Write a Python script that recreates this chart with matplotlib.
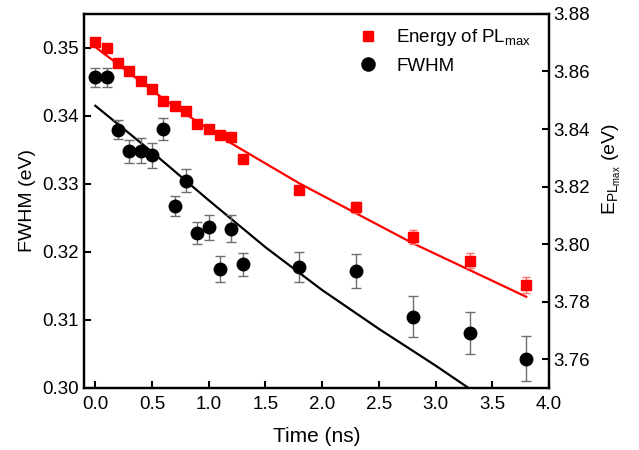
import matplotlib
matplotlib.use("Agg")
import matplotlib.pyplot as plt

plt.rcParams['font.family'] = ['Liberation Sans', 'DejaVu Sans']
plt.rcParams['mathtext.default'] = 'regular'

# data
time = [0.0, 0.1, 0.2, 0.3, 0.4, 0.5, 0.6, 0.7, 0.8, 0.9, 1.0, 1.1, 1.2, 1.3,
        1.8, 2.3, 2.8, 3.3, 3.8]
energy = [3.8704, 3.8681, 3.8631, 3.8602, 3.8568, 3.8540, 3.8498, 3.8480,
          3.8463, 3.8417, 3.8401, 3.8379, 3.8371, 3.8295, 3.8188, 3.8128,
          3.8024, 3.7943, 3.7858]
energy_err = [0.001, 0.001, 0.001, 0.001, 0.001, 0.001, 0.001, 0.001, 0.001,
              0.001, 0.001, 0.001, 0.001, 0.0012, 0.0015, 0.002, 0.0025,
              0.0025, 0.0028]
fwhm = [0.3457, 0.3457, 0.3380, 0.3348, 0.3349, 0.3342, 0.3381, 0.3268,
        0.3305, 0.3228, 0.3236, 0.3175, 0.3234, 0.3182, 0.3178, 0.3172,
        0.3105, 0.3081, 0.3043]
fwhm_err = [0.0014, 0.0014, 0.0014, 0.0017, 0.0018, 0.0018, 0.0016, 0.0015,
            0.0017, 0.0016, 0.0019, 0.0019, 0.002, 0.0017, 0.0022, 0.0025,
            0.003, 0.0031, 0.0033]

# fit curves
fit_e_t = [0.0, 0.3, 0.6, 0.9, 1.2, 1.8, 2.3, 2.8, 3.3, 3.8]
fit_e_v = [3.8685, 3.8595, 3.8505, 3.8425, 3.8350, 3.8211, 3.8107, 3.8003,
           3.7910, 3.7817]
fit_w_t = [0.0, 0.5, 1.0, 1.5, 2.0, 2.5, 3.0, 3.3, 3.5]
fit_w_v = [0.3415, 0.3347, 0.3276, 0.3207, 0.3144, 0.3087, 0.3033, 0.2999,
           0.2977]

fig = plt.figure(figsize=(6.39, 4.5), dpi=100)
ax = fig.add_axes([0.1315, 0.1378, 0.7275, 0.8312])
ax2 = ax.twinx()

ax.plot(fit_w_t, fit_w_v, color='black', lw=1.6, zorder=2)
ax.errorbar(time, fwhm, yerr=fwhm_err, fmt='none', ecolor='#6e6e6e',
            elinewidth=1, capsize=3.5, capthick=1, zorder=3)
h_fwhm, = ax.plot(time, fwhm, 'o', color='black', ms=9, ls='none',
                  zorder=4, label='FWHM')

ax2.plot(fit_e_t, fit_e_v, color='red', lw=1.6, zorder=2)
ax2.errorbar(time, energy, yerr=energy_err, fmt='none', ecolor='#ff7070',
             elinewidth=1, capsize=3, capthick=1, zorder=3)
h_e, = ax2.plot(time, energy, 's', color='red', ms=7.5, ls='none',
                zorder=4, label='Energy of PL$_{max}$')

ax.set_xlim(-0.1, 4.0)
ax.set_ylim(0.30, 0.355)
ax2.set_ylim(3.75, 3.88)

ax.set_xticks([0.0, 0.5, 1.0, 1.5, 2.0, 2.5, 3.0, 3.5, 4.0])
ax.set_xticklabels(['0.0', '0.5', '1.0', '1.5', '2.0', '2.5', '3.0', '3.5', '4.0'])
ax.set_yticks([0.30, 0.31, 0.32, 0.33, 0.34, 0.35])
ax.set_yticklabels(['0.30', '0.31', '0.32', '0.33', '0.34', '0.35'])
ax2.set_yticks([3.76, 3.78, 3.80, 3.82, 3.84, 3.86, 3.88])
ax2.set_yticklabels(['3.76', '3.78', '3.80', '3.82', '3.84', '3.86', '3.88'])

for a in (ax, ax2):
    a.tick_params(direction='in', length=5, width=1.5, labelsize=13.5)
    for s in a.spines.values():
        s.set_linewidth(1.6)
ax.tick_params(axis='y', right=False)
ax.tick_params(axis='x', top=False, pad=6)

ax.set_xlabel('Time (ns)', fontsize=15, labelpad=10)
ax.set_ylabel('FWHM (eV)', fontsize=14, labelpad=5)
ax2.set_ylabel('E$_{PL_{max}}$ (eV)', fontsize=14)
ax2.yaxis.set_label_coords(1.112, 0.585)

ax2.legend(handles=[h_e, h_fwhm], loc='upper left',
           bbox_to_anchor=(0.555, 1.01), frameon=False, fontsize=13.5,
           handlelength=1.0, handletextpad=1.0, labelspacing=0.5,
           markerscale=1.05)

fig.savefig('out.png', dpi=100)
